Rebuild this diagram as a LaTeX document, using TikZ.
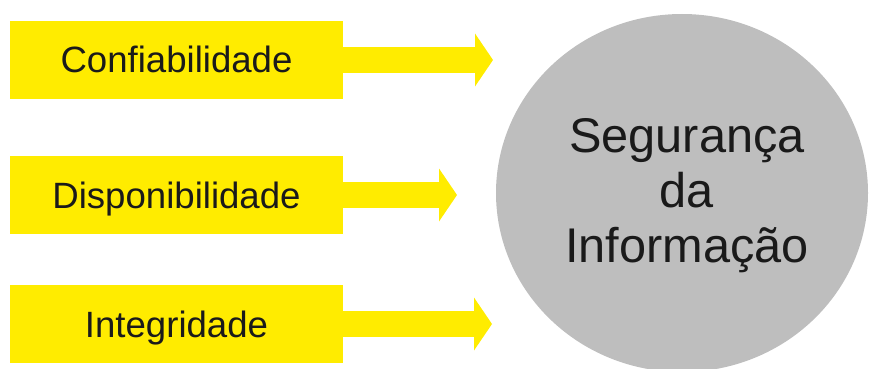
\documentclass[tikz,border=0pt]{standalone}
\usepackage{fontspec}
\setmainfont{Liberation Sans}
\usepackage{tikz}
\usetikzlibrary{arrows.meta,positioning,shapes.geometric}
\definecolor{pillaryellow}{RGB}{255,236,0}
\definecolor{coregray}{RGB}{190,190,190}
\definecolor{inktext}{RGB}{26,26,26}
\tikzset{pillar/.style={fill=pillaryellow,inner sep=0pt,minimum width=333pt,minimum height=78pt,
   text=inktext,font=\fontsize{36.6}{40}\selectfont,text height=26pt,text depth=0pt},
 core/.style={ellipse,fill=coregray,inner sep=0pt,minimum width=372pt,minimum height=358pt,
   align=center,text=inktext,font=\fontsize{48.7}{55}\selectfont},
 fatarrow/.style={draw=pillaryellow,line width=26pt,-{Triangle[length=18pt,width=53pt,line width=0pt]}}}

\begin{document}
\begin{tikzpicture}[x=1pt,y=-1pt]
\useasboundingbox (0,0) rectangle (870,369);
\clip (0,0) rectangle (870,369);
\node[core] (seg) at (682,193) {};
\node[font=\fontsize{48.7}{55}\selectfont,text=inktext,align=center] (segtext) at (687,196) {Segurança\\da\\Informação};
\node[pillar] (conf) at (176.5,60) {Confiabilidade};
\node[pillar] (disp) at (176.5,195) {Disponibilidade};
\node[pillar] (integ) at (176.5,324) {Integridade};
\coordinate (t1) at (493,60);
\coordinate (t2) at (457,195);
\coordinate (t3) at (492,324);

\draw[fatarrow] (conf.east)--(t1);
\draw[fatarrow] (disp.east)--(t2);
\draw[fatarrow] (integ.east)--(t3);
\end{tikzpicture}
\end{document}
